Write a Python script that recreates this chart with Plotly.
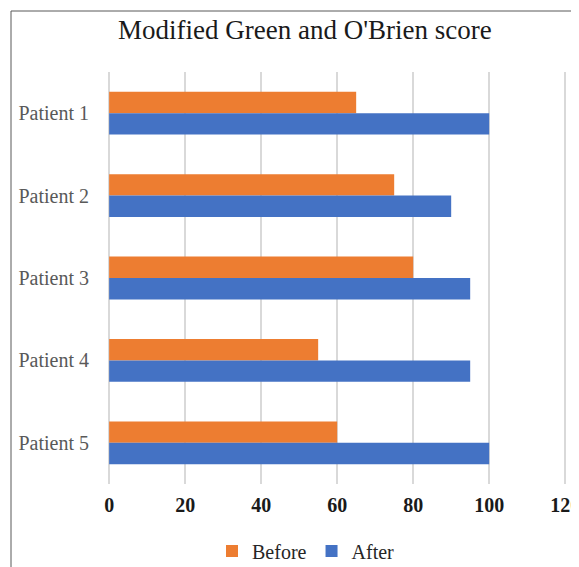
import plotly.graph_objects as go

patients = ["Patient 1", "Patient 2", "Patient 3", "Patient 4", "Patient 5"]
before = [65, 75, 80, 55, 60]
after = [100, 90, 95, 95, 100]
x_ticks = [0, 20, 40, 60, 80, 100, 120]

FONT = "Liberation Serif, Times New Roman, serif"

fig = go.Figure()
fig.add_trace(go.Bar(y=patients, x=before, name="Before", orientation="h",
                     marker=dict(color="#ED7D31", line=dict(width=0))))
fig.add_trace(go.Bar(y=patients, x=after, name="After", orientation="h",
                     marker=dict(color="#4472C4", line=dict(width=0))))

# page body has an 8px margin; work in page pixels and shift
OFF = 8
SCALE = 3.8  # px per unit
XMIN, XMAX = -0.3, 121
W, H = 579 - OFF, 567 - OFF
L = round(109 + XMIN * SCALE) - OFF
PW = round((XMAX - XMIN) * SCALE)
R = W - L - PW
T, B = 72 - OFF, 83
ph = H - T - B

def px_to_paper_x(px):
    return (px - OFF - L) / PW

def px_to_paper_y(py):
    return (H - B - (py - OFF)) / ph

fig.update_layout(
    width=W, height=H,
    margin=dict(l=L, r=R, t=T, b=B, autoexpand=False),
    paper_bgcolor="white", plot_bgcolor="white",
    barmode="group", bargap=0.48, bargroupgap=0,
    font=dict(family=FONT, color="#595959"),
    showlegend=True,
    legend=dict(orientation="h", xanchor="center", yanchor="middle",
                x=px_to_paper_x(306), y=px_to_paper_y(551),
                font=dict(family=FONT, size=20, color="#262626"),
                itemwidth=30, traceorder="normal", bgcolor="rgba(0,0,0,0)"),
    xaxis=dict(range=[XMIN, XMAX], tickvals=x_ticks, ticktext=[f"<b>{v}</b>" for v in x_ticks],
               showgrid=True, gridcolor="#D9D9D9", gridwidth=1.5,
               zeroline=False, showline=False, ticks="",
               ticklabelstandoff=7, ticklabeloverflow="allow",
               tickfont=dict(family=FONT, size=20, color="#1a1a1a"), fixedrange=True),
    yaxis=dict(autorange="reversed", showgrid=False, zeroline=False, showline=False,
               ticks="", ticklabelstandoff=18,
               tickfont=dict(family=FONT, size=20, color="#595959")),
    shapes=[dict(type="rect", xref="paper", yref="paper",
                 x0=px_to_paper_x(11), x1=px_to_paper_x(579 + 20),
                 y0=px_to_paper_y(567 + 20), y1=px_to_paper_y(11),
                 line=dict(color="#595959", width=1), layer="below")],
    annotations=[dict(text="Modified Green and O'Brien score", xref="paper", yref="paper",
                      x=px_to_paper_x(305), y=px_to_paper_y(30), xanchor="center", yanchor="middle",
                      showarrow=False, font=dict(family=FONT, size=27, color="#1a1a1a"))],
)

fig.write_html("out.html")
